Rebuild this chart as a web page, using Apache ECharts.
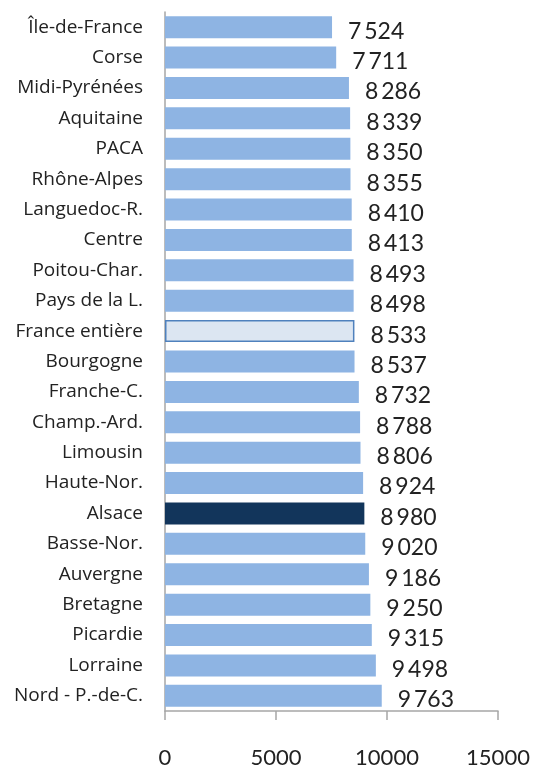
<!DOCTYPE html>
<html><head><meta charset="utf-8">
<script src="https://cdn.jsdelivr.net/npm/echarts@6/dist/echarts.min.js"></script>
<style>html,body{margin:0;padding:0;background:#fff}#c{width:534px;height:769px}</style>
</head><body><div id="c"></div>
<script>
const categories = ["Île-de-France","Corse","Midi-Pyrénées","Aquitaine","PACA","Rhône-Alpes","Languedoc-R.","Centre","Poitou-Char.","Pays de la L.","France entière","Bourgogne","Franche-C.","Champ.-Ard.","Limousin","Haute-Nor.","Alsace","Basse-Nor.","Auvergne","Bretagne","Picardie","Lorraine","Nord - P.-de-C."];
const values = [7524,7711,8286,8339,8350,8355,8410,8413,8493,8498,8533,8537,8732,8788,8806,8924,8980,9020,9186,9250,9315,9498,9763];
const xTicks = [0,5000,10000,15000];
const CATFONT = "Open Sans";
const NUMFONT = "Lato";
function fmt(v){const s=String(v);return s.length>3?s.slice(0,s.length-3)+"\u2009"+s.slice(-3):s;}
const data = values.map((v,i)=>{
  const c = categories[i];
  if (c === "France entière") return {value:v,itemStyle:{color:"#DCE6F2",borderColor:"#4F81BD",borderWidth:1.5}};
  if (c === "Alsace") return {value:v,itemStyle:{color:"#12355B"}};
  return {value:v,itemStyle:{color:"#8EB4E3"}};
});
const chart = echarts.init(document.getElementById('c'));
chart.setOption({
  animation:false,
  grid:{left:165,right:36,top:12,bottom:56,containLabel:false},
  xAxis:{type:'value',min:xTicks[0],max:xTicks[xTicks.length-1],interval:5000,
    splitLine:{show:false},
    axisLine:{show:true,lineStyle:{color:'#A6A6A6',width:1.5}},
    axisTick:{show:true,length:9,lineStyle:{color:'#A6A6A6',width:1.5}},
    axisLabel:{margin:36,fontFamily:NUMFONT,fontSize:22,color:'#222',formatter:v=>String(v)}},
  yAxis:{type:'category',data:categories,inverse:true,
    axisLine:{show:true,lineStyle:{color:'#A6A6A6',width:1.5}},
    axisTick:{show:false},
    axisLabel:{margin:22,fontFamily:CATFONT,fontSize:19,color:'#222',padding:[0,0,6,0]}},
  series:[{type:'bar',data:data,barWidth:22,
    label:{show:true,position:'right',distance:16,offset:[0,4],fontFamily:NUMFONT,fontSize:23,color:'#222',
      formatter:p=>fmt(p.value)}}]
});
</script></body></html>
